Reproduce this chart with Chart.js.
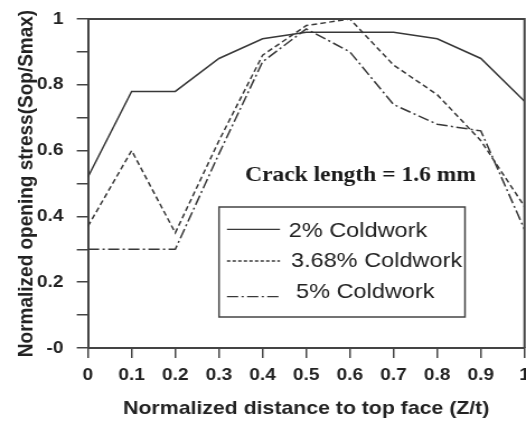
<!DOCTYPE html>
<html>
<head>
<meta charset="utf-8">
<script src="https://cdn.jsdelivr.net/npm/chart.js@4.4.1/dist/chart.umd.min.js"></script>
<style>
  html, body { margin: 0; padding: 0; background: #fff; overflow: hidden; }
  #wrap { width: 470px; height: 423px; transform: scaleX(1.1191); transform-origin: 0 0; }
</style>
</head>
<body>
<div id="wrap"><canvas id="chart" width="470" height="423" style="width:470px;height:423px"></canvas></div>
<script>
// normalized distance Z/t
const xVals = [0, 0.1, 0.2, 0.3, 0.4, 0.5, 0.6, 0.7, 0.8, 0.9, 1];
// normalized opening stress Sop/Smax
const cw2 = [0.52, 0.78, 0.78, 0.88, 0.94, 0.96, 0.96, 0.96, 0.94, 0.88, 0.75];
const cw368 = [0.37, 0.60, 0.35, 0.63, 0.89, 0.98, 1.00, 0.86, 0.77, 0.63, 0.43];
const cw5 = [0.30, 0.30, 0.30, 0.59, 0.87, 0.97, 0.90, 0.74, 0.68, 0.66, 0.36];

const seriesNames = ['2% Coldwork', '3.68% Coldwork', '5% Coldwork'];
const note = 'Crack length = 1.6 mm';

const lineColor = '#383838';
const axisColor = '#444';
const sans = "'Liberation Sans', Arial, sans-serif";

const pts = arr => xVals.map((x, i) => ({ x, y: arr[i] }));

// top/right frame, legend box and the annotation
const extras = {
  id: 'extras',
  afterDraw(chart) {
    const { ctx, chartArea: a } = chart;
    ctx.save();
    ctx.strokeStyle = axisColor;
    ctx.lineWidth = 2;
    ctx.beginPath();
    ctx.moveTo(a.left, a.top);
    ctx.lineTo(a.right, a.top);
    ctx.lineTo(a.right, a.bottom);
    ctx.stroke();

    // legend
    ctx.fillStyle = '#fff';
    ctx.fillRect(195.7, 207, 219.8, 110);
    ctx.lineWidth = 1.5;
    ctx.strokeRect(195.7, 207, 219.8, 110);
    const rows = [229.3, 261, 296.7];
    const textX = [258, 260, 264.5];
    const textY = [230.8, 261.7, 292.5];
    chart.data.datasets.forEach((ds, i) => {
      ctx.strokeStyle = lineColor;
      ctx.lineWidth = 1.3;
      ctx.setLineDash(i === 1 ? [3, 2] : (ds.borderDash || []));
      ctx.beginPath();
      ctx.moveTo(202.8, rows[i]);
      ctx.lineTo(250.2, rows[i]);
      ctx.stroke();
      ctx.setLineDash([]);
      ctx.fillStyle = '#222';
      ctx.font = '21px ' + sans;
      ctx.textBaseline = 'middle';
      ctx.fillText(ds.label, textX[i], textY[i]);
    });

    ctx.fillStyle = '#1a1a1a';
    ctx.font = "bold 21px 'Liberation Serif', 'Times New Roman', serif";
    ctx.textBaseline = 'alphabetic';
    ctx.fillText(note, 219, 181);
    ctx.restore();
  }
};

new Chart(document.getElementById('chart'), {
  type: 'line',
  data: {
    datasets: [
      { label: seriesNames[0], data: pts(cw2), borderColor: lineColor, borderWidth: 1.5, pointRadius: 0, borderDash: [] },
      { label: seriesNames[1], data: pts(cw368), borderColor: lineColor, borderWidth: 1.5, pointRadius: 0, borderDash: [5, 3] },
      { label: seriesNames[2], data: pts(cw5), borderColor: lineColor, borderWidth: 1.5, pointRadius: 0, borderDash: [10, 3, 2, 3] }
    ]
  },
  options: {
    responsive: false,
    animation: false,
    layout: { padding: { top: 19, right: 1.3, left: 0, bottom: 0 } },
    plugins: { legend: { display: false }, tooltip: { enabled: false } },
    scales: {
      x: {
        type: 'linear',
        min: 0,
        max: 1,
        afterFit(s) { s.height = 75; s.paddingLeft = 0; s.paddingRight = 0; },
        ticks: {
          stepSize: 0.1,
          padding: 7,
          color: '#222',
          font: { family: sans, size: 17, weight: 'bold' },
          callback: v => String(+v.toFixed(1))
        },
        grid: { drawOnChartArea: false, drawTicks: true, tickLength: 10, color: axisColor, lineWidth: 1.5 },
        border: { display: true, color: axisColor, width: 2 },
        title: {
          display: true,
          text: 'Normalized distance to top face (Z/t)',
          color: '#222',
          font: { family: sans, size: 19, weight: 'bold' },
          padding: { top: 0, bottom: 3 }
        }
      },
      y: {
        min: 0,
        max: 1,
        afterFit(s) { s.width = 78.6; s.paddingTop = 0; s.paddingBottom = 0; },
        ticks: {
          stepSize: 0.1,
          padding: 12,
          color: '#222',
          font: { family: sans, size: 17, weight: 'bold' },
          callback: v => {
            const r = Math.round(v * 10);
            if (r % 2) return '';
            return r === 0 ? '-0' : String(r / 10);
          }
        },
        grid: { drawOnChartArea: false, drawTicks: true, tickLength: 10, color: axisColor, lineWidth: 1.5 },
        border: { display: true, color: axisColor, width: 2 },
        title: {
          display: true,
          text: 'Normalized opening stress(Sop/Smax)',
          color: '#222',
          font: { family: sans, size: 19, weight: 'bold' },
          padding: { top: 12.5, bottom: 0 }
        }
      }
    }
  },
  plugins: [extras]
});
</script>
</body>
</html>
